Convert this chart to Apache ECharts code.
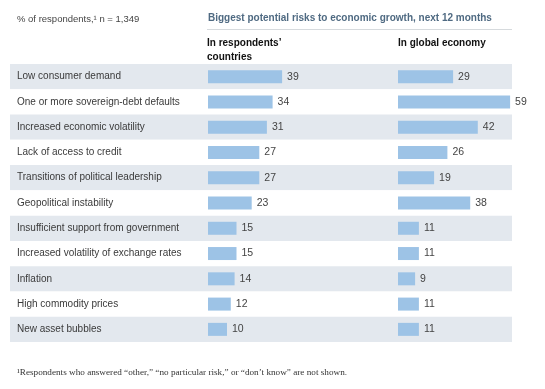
<!DOCTYPE html>
<html><head><meta charset="utf-8">
<script src="https://cdn.jsdelivr.net/npm/echarts@6/dist/echarts.min.js"></script>
<style>html,body{margin:0;padding:0;background:#fff}#c{width:545px;height:389px}</style>
</head><body><div id="c"></div>
<script>
const categories = ["Low consumer demand","One or more sovereign-debt defaults","Increased economic volatility","Lack of access to credit","Transitions of political leadership","Geopolitical instability","Insufficient support from government","Increased volatility of exchange rates","Inflation","High commodity prices","New asset bubbles"];
const respondentsCountries = [39,34,31,27,27,23,15,15,14,12,10];
const globalEconomy = [29,59,42,26,19,38,11,11,9,11,11];
const headerLeft = "% of respondents,\u00b9 n = 1,349";
const chartTitle = "Biggest potential risks to economic growth, next 12 months";
const colHeaders = ["In respondents\u2019\ncountries","In global economy"];
const footnote = "\u00b9Respondents who answered \u201cother,\u201d \u201cno particular risk,\u201d or \u201cdon\u2019t know\u201d are not shown.";

const FONT = "'Liberation Sans', Arial, Helvetica, sans-serif";
const chart = echarts.init(document.getElementById('c'), null, {renderer:'canvas'});
const TOP = 64, H = 278;
const barLabel = {show:true, position:'right', distance:5, color:'#444', fontSize:10.5, fontFamily:FONT};
chart.setOption({
  animation:false,
  title:[
    {text:headerLeft, left:17, top:14, padding:0, textStyle:{fontSize:9.5, fontWeight:'normal', color:'#444', fontFamily:FONT}},
    {text:chartTitle, left:208, top:13.5, padding:0, textStyle:{fontSize:10, fontWeight:'bold', color:'#4f6a82', fontFamily:FONT}},
    {text:colHeaders[0], left:207, top:36, padding:0, textStyle:{fontSize:10, fontWeight:'bold', color:'#111', fontFamily:FONT, lineHeight:14}},
    {text:colHeaders[1], left:398, top:36, padding:0, textStyle:{fontSize:10, fontWeight:'bold', color:'#111', fontFamily:FONT, lineHeight:14}},
    {text:footnote, left:17, top:368, padding:0, textStyle:{fontSize:9.2, fontWeight:'normal', color:'#333', fontFamily:"'Liberation Serif', 'DejaVu Serif', serif"}}
  ],
  graphic:[{type:'line', shape:{x1:207,y1:29.5,x2:512,y2:29.5}, style:{stroke:'#d6dadd', lineWidth:1}}],
  grid:[
    {left:10, top:TOP, width:502, height:H},
    {left:208, top:TOP, width:114, height:H},
    {left:398, top:TOP, width:114, height:H}
  ],
  xAxis:[
    {gridIndex:0, type:'value', min:0, max:1, show:false},
    {gridIndex:1, type:'value', min:0, max:60, show:false},
    {gridIndex:2, type:'value', min:0, max:60, show:false}
  ],
  yAxis:[
    {gridIndex:0, type:'category', data:categories, inverse:true,
     axisLine:{show:false}, axisTick:{show:false},
     axisLabel:{align:'left', margin:-7, color:'#3a3a3a', fontSize:10, fontFamily:FONT},
     splitArea:{show:true, areaStyle:{color:['#e3e8ee','#ffffff']}}},
    {gridIndex:1, type:'category', data:categories, inverse:true, show:false},
    {gridIndex:2, type:'category', data:categories, inverse:true, show:false}
  ],
  series:[
    {type:'bar', xAxisIndex:1, yAxisIndex:1, data:respondentsCountries, barWidth:13, itemStyle:{color:'#9dc3e6'}, label:barLabel},
    {type:'bar', xAxisIndex:2, yAxisIndex:2, data:globalEconomy, barWidth:13, itemStyle:{color:'#9dc3e6'}, label:barLabel}
  ]
});
</script></body></html>
